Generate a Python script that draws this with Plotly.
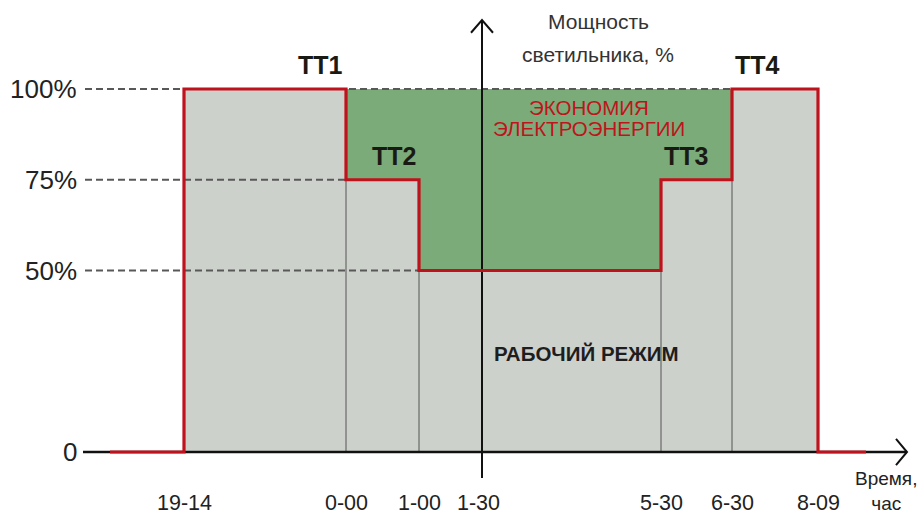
import plotly.graph_objects as go

# ---- data ----
time_labels = ["19-14", "0-00", "1-00", "1-30", "5-30", "6-30", "8-09"]
time_pos = [184, 346, 419, 482, 661, 732, 818]          # schematic (non-linear) time axis
switch_labels = ["19-14", "0-00", "1-00", "5-30", "6-30", "8-09"]
power_after = [100, 75, 50, 75, 100, 0]                 # luminaire power (%) after each switch
nominal = 100
level_ticks = [100, 75, 50, 0]
level_labels = ["100%", "75%", "50%", "0"]
tt_labels = ["ТТ1", "ТТ2", "ТТ3", "ТТ4"]
tt_switch = ["0-00", "1-00", "5-30", "6-30"]
tt_level = [100, 75, 75, 100]
tt_side = ["right", "right", "left", "left"]
x_start, x_end = 110, 866       # red baseline ends
axis_left, axis_right = 83, 907
save_from, save_to = "0-00", "6-30"

pos = dict(zip(time_labels, time_pos))
sw_x = [pos[s] for s in switch_labels]

# step profile
step_x, step_y = [x_start], [0]
prev = 0
for x, lv in zip(sw_x, power_after):
    step_x += [x, x]
    step_y += [prev, lv]
    prev = lv
step_x.append(x_end)
step_y.append(prev)

fig = go.Figure()

# gray working area
gx, gy = [sw_x[0]], [0]
prev = 0
for x, lv in zip(sw_x, power_after):
    gx += [x, x]
    gy += [prev, lv]
    prev = lv
fig.add_trace(go.Scatter(x=gx, y=gy, fill="toself", fillcolor="#cdd1cc",
                         line=dict(width=0), mode="lines", hoverinfo="skip"))

# green saving area
i0, i1 = switch_labels.index(save_from), switch_labels.index(save_to)
ex, ey = [sw_x[i0]], [nominal]
for k in range(i0, i1):
    ex += [sw_x[k], sw_x[k + 1]]
    ey += [power_after[k], power_after[k]]
ex += [sw_x[i1], sw_x[i0]]
ey += [nominal, nominal]
fig.add_trace(go.Scatter(x=ex, y=ey, fill="toself", fillcolor="#7aab79",
                         line=dict(width=0), mode="lines", hoverinfo="skip"))

# dashed level lines
dash_ends = {100: pos[save_to], 75: pos["0-00"], 50: pos["1-00"]}
for lv, xe in dash_ends.items():
    fig.add_trace(go.Scatter(x=[85, xe], y=[lv, lv], mode="lines",
                             line=dict(color="#585858", width=2, dash="7px,4px"),
                             hoverinfo="skip"))

# thin dividers inside gray area
for k in range(1, len(sw_x) - 1):
    h = min(power_after[k - 1], power_after[k])
    fig.add_trace(go.Scatter(x=[sw_x[k], sw_x[k]], y=[0, h], mode="lines",
                             line=dict(color="#555555", width=1), hoverinfo="skip"))

# axes
yaxis_x = pos["1-30"]
fig.add_trace(go.Scatter(x=[axis_left, axis_right], y=[0, 0], mode="lines",
                         line=dict(color="#111111", width=2.5), hoverinfo="skip"))
fig.add_trace(go.Scatter(x=[axis_right - 11, axis_right, axis_right - 11], y=[3.6, 0, -3.6],
                         mode="lines", line=dict(color="#111111", width=2), hoverinfo="skip"))
fig.add_trace(go.Scatter(x=[yaxis_x, yaxis_x], y=[-7.2, 119], mode="lines",
                         line=dict(color="#111111", width=2), hoverinfo="skip"))
fig.add_trace(go.Scatter(x=[yaxis_x - 11, yaxis_x, yaxis_x + 11], y=[115.5, 119, 115.5],
                         mode="lines", line=dict(color="#111111", width=2), hoverinfo="skip"))

# red power profile
fig.add_trace(go.Scatter(x=step_x, y=step_y, mode="lines",
                         line=dict(color="#c0121c", width=3.2), hoverinfo="skip"))

sans = "Liberation Sans, Arial, sans-serif"
ann = []


def txt(x, y, s, size, color="#222222", xa="center", ya="middle", **kw):
    ann.append(dict(x=x, y=y, text=s, showarrow=False, xanchor=xa, yanchor=ya,
                    font=dict(family=sans, size=size, color=color), **kw))


for lv, lab in zip(level_ticks, level_labels):
    txt(79, lv, lab, 26, xa="right")
for lab, x in zip(time_labels, time_pos):
    txt(x - (4 if lab == "1-30" else 0), -14, lab, 21.5)
for lab, s, lv, side in zip(tt_labels, tt_switch, tt_level, tt_side):
    txt(pos[s] + (-1 if side == "right" else 1), lv, "<b>%s</b>" % lab, 25,
        color="#1a1a14", xa=side, ya="bottom", yshift=8)
txt(598, 118.5, "Мощность", 21, color="#333333")
txt(598, 109.5, "светильника, %", 21, color="#333333")
txt(589, 95.0, "ЭКОНОМИЯ", 20.5, color="#c0141c")
txt(589, 89.0, "ЭЛЕКТРОЭНЕРГИИ", 20.5, color="#c0141c")
txt(586, 27, "<b>РАБОЧИЙ РЕЖИМ</b>", 20.5, color="#1e1e1e")
txt(886, -17.3, "Время,<br>час", 19, ya="bottom", align="center", borderpad=0)

fig.update_layout(
    width=923, height=517, margin=dict(l=0, r=0, t=0, b=0),
    paper_bgcolor="white", plot_bgcolor="white", showlegend=False,
    xaxis=dict(range=[0, 923], visible=False, fixedrange=True),
    yaxis=dict(range=[-17.91, 124.52], visible=False, fixedrange=True),
    annotations=ann,
)
fig.write_html("out.html", config={"displayModeBar": False},
               post_script="document.body.style.margin='0';")
